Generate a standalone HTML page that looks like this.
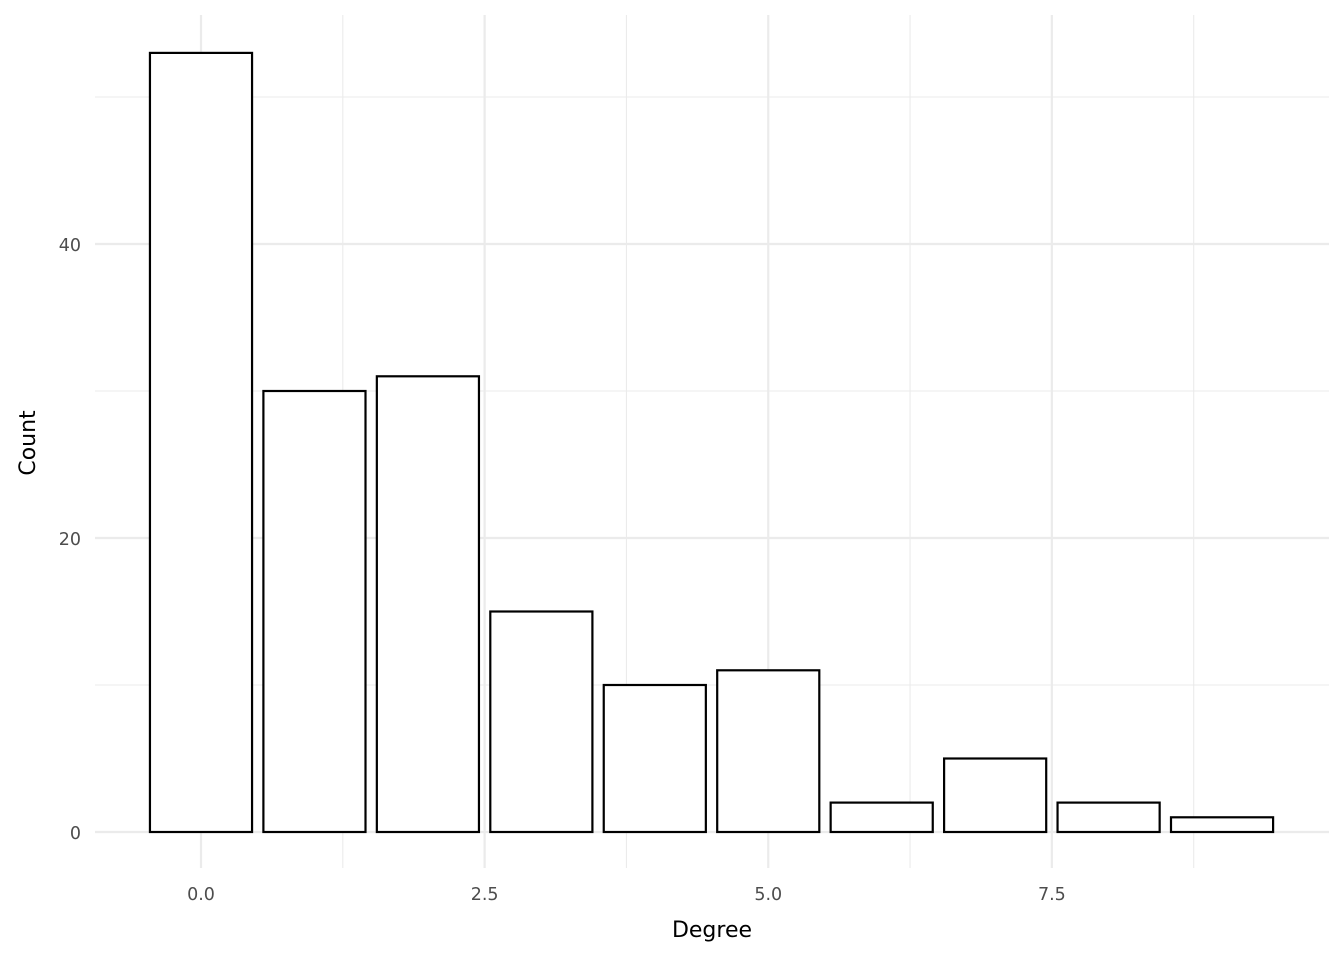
<!DOCTYPE html>
<html><head><meta charset="utf-8"><style>
html,body{margin:0;padding:0;background:#fff;}
svg{display:block;font-family:"DejaVu Sans","Liberation Sans",sans-serif;}
</style></head><body>
<svg id="chart" width="1344" height="960" viewBox="0 0 1344 960" xmlns="http://www.w3.org/2000/svg">
<g id="grid"></g>
<g id="bars"></g>
<g id="ticks"></g>
<text x="712" y="937" text-anchor="middle" font-size="22" fill="#000">Degree</text>
<text x="0" y="0" transform="translate(35,443) rotate(-90)" text-anchor="middle" font-size="22" fill="#000">Count</text>
</svg>
<script>
const categories = [0,1,2,3,4,5,6,7,8,9];
const counts = [53,30,31,15,10,11,2,5,2,1];
const xTicks = [0,2.5,5,7.5];
const xTickLabels = ["0.0","2.5","5.0","7.5"];
const xMinor = [1.25,3.75,6.25,8.75];
const yTicks = [0,20,40];
const yTickLabels = ["0","20","40"];
const yMinor = [10,30,50];

const NS="http://www.w3.org/2000/svg";
const px0=95, px1=1329, py0=15, py1=868;
function xs(v){return 201 + v*113.45;}
function ys(v){return 832 - v*14.7;}
function mk(tag, attrs, parent){const e=document.createElementNS(NS,tag);for(const k in attrs)e.setAttribute(k,attrs[k]);parent.appendChild(e);return e;}
const grid=document.getElementById('grid'), bars=document.getElementById('bars'), ticks=document.getElementById('ticks');
yMinor.forEach(v=>{const l=mk('line',{x1:px0,x2:px1,y1:ys(v),y2:ys(v),stroke:'#ebebeb','stroke-width':1.1},grid);

});
xMinor.forEach(v=>{const l=mk('line',{x1:xs(v),x2:xs(v),y1:py0,y2:py1,stroke:'#ebebeb','stroke-width':1.1},grid);

});
yTicks.forEach((v,i)=>{const l=mk('line',{x1:px0,x2:px1,y1:ys(v),y2:ys(v),stroke:'#ebebeb','stroke-width':2.2},grid);


const t=mk('text',{x:81,y:ys(v)+7,'text-anchor':'end','font-size':17.5,fill:'#4d4d4d'},ticks);t.textContent=yTickLabels[i];

});
xTicks.forEach((v,i)=>{const l=mk('line',{x1:xs(v),x2:xs(v),y1:py0,y2:py1,stroke:'#ebebeb','stroke-width':2.2},grid);


const t=mk('text',{x:xs(v),y:900,'text-anchor':'middle','font-size':17.5,fill:'#4d4d4d'},ticks);t.textContent=xTickLabels[i];

});
categories.forEach((c,i)=>{const x=xs(c-0.45), w=xs(c+0.45)-x;
const r=mk('rect',{x:x,y:ys(counts[i]),width:w,height:ys(0)-ys(counts[i]),fill:'#fff',stroke:'#000','stroke-width':2.2},bars);

});
</script>
</body></html>
